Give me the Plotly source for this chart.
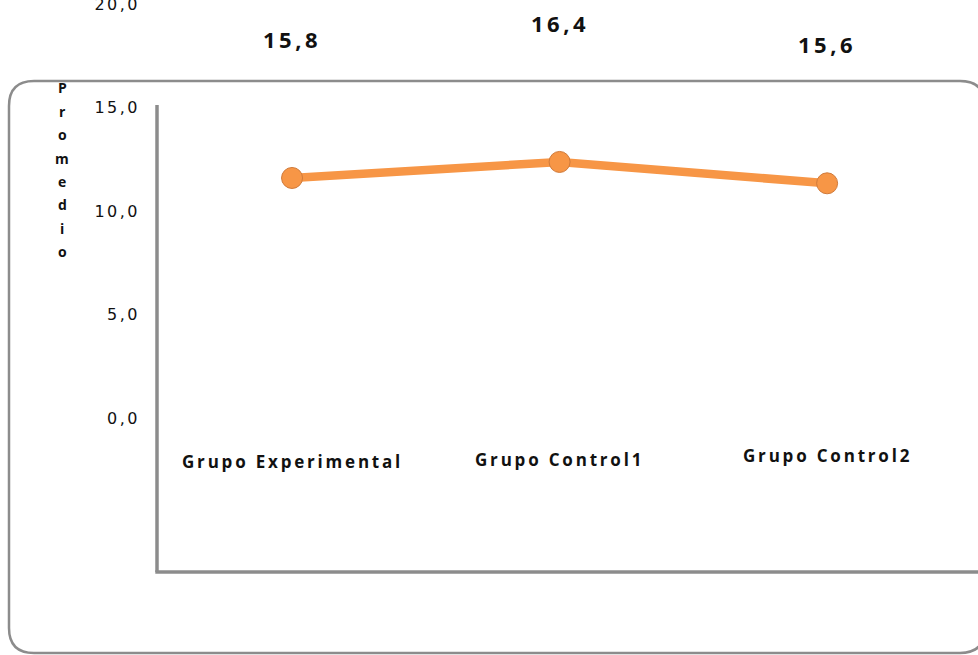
import plotly.graph_objects as go

# Promedio por grupo
categorias = ["Grupo Experimental", "Grupo Control1", "Grupo Control2"]
promedios = [15.8, 16.4, 15.6]
ticks_y = [0, 5, 10, 15, 20]

W, H = 978, 655
NARANJA = "#F79646"
GRIS = "#8c8c8c"


def px_x(v):
    return v / W


def px_y(v):
    return 1 - v / H


def coma(v):
    return f"{v:.1f}".replace(".", ",")


def espaciado(texto, sp):
    return f'<span style="letter-spacing:{sp}px">{texto}</span>'


fig = go.Figure()

# Traza vacía que sostiene el eje de escala visible
fig.add_trace(go.Scatter(
    x=categorias, y=[None] * len(categorias), yaxis="y",
    mode="markers", hoverinfo="skip", showlegend=False,
))

fig.add_trace(go.Scatter(
    x=categorias,
    y=promedios,
    yaxis="y2",
    mode="lines+markers",
    line=dict(color=NARANJA, width=8.5),
    marker=dict(size=21, color=NARANJA, line=dict(color="#d07a3a", width=1)),
    hoverinfo="skip",
    showlegend=False,
))

# Etiquetas de valor sobre cada punto
anotaciones = []
for c, v in zip(categorias, promedios):
    anotaciones.append(dict(
        x=c, y=v, xref="x", yref="y2", yshift=139,
        xanchor="center", yanchor="middle",
        text=espaciado(coma(v), 3.5), showarrow=False,
        font=dict(family="Open Sans", size=22, color="#111111", weight="bold"),
    ))

# Etiquetas de categoría
desplaz_cat = [461, 459, 455]
for c, yy in zip(categorias, desplaz_cat):
    anotaciones.append(dict(
        x=c, y=px_y(yy), xref="x", yref="paper",
        xanchor="center", yanchor="middle",
        text=espaciado(c, 2.8), showarrow=False,
        font=dict(family="Open Sans", size=17, color="#111111", weight="bold"),
    ))

# Título del eje vertical, letra por letra
titulo = "Promedio"
for i, letra in enumerate(titulo):
    anotaciones.append(dict(
        x=px_x(62), y=px_y(88 + i * 23.4), xref="paper", yref="paper",
        xanchor="center", yanchor="middle",
        text=letra, showarrow=False,
        font=dict(family="Open Sans", size=14, color="#111111", weight="bold"),
    ))

# Marco redondeado y líneas de los ejes
L, T, R, B, r = 9, 81, 985, 653, 25
marco = (
    f"M {px_x(L)},{px_y(T + r)} "
    f"Q {px_x(L)},{px_y(T)} {px_x(L + r)},{px_y(T)} "
    f"L {px_x(R - r)},{px_y(T)} "
    f"Q {px_x(R)},{px_y(T)} {px_x(R)},{px_y(T + r)} "
    f"L {px_x(R)},{px_y(B - r)} "
    f"Q {px_x(R)},{px_y(B)} {px_x(R - r)},{px_y(B)} "
    f"L {px_x(L + r)},{px_y(B)} "
    f"Q {px_x(L)},{px_y(B)} {px_x(L)},{px_y(B - r)} Z"
)
formas = [
    dict(type="path", path=marco, xref="paper", yref="paper",
         line=dict(color=GRIS, width=2.5), layer="below"),
    dict(type="line", xref="paper", yref="paper",
         x0=px_x(157), x1=px_x(157), y0=px_y(105), y1=px_y(572),
         line=dict(color=GRIS, width=3.5)),
    dict(type="line", xref="paper", yref="paper",
         x0=px_x(155.3), x1=1.0, y0=px_y(572), y1=px_y(572),
         line=dict(color=GRIS, width=3.5)),
]

fig.update_layout(
    width=W, height=H,
    margin=dict(l=0, r=0, t=0, b=0, autoexpand=False),
    paper_bgcolor="white", plot_bgcolor="white",
    xaxis=dict(
        domain=[0, 1], range=[-1.0916, 2.564],
        type="category", categoryorder="array", categoryarray=categorias,
        visible=False, fixedrange=True, automargin=False,
    ),
    yaxis=dict(
        domain=[0, 1], range=[-11.47, 20.22],
        anchor="free", position=px_x(140), side="left",
        tickvals=ticks_y, ticktext=[espaciado(coma(t), 2.5) for t in ticks_y],
        tickfont=dict(family="DejaVu Sans", size=16, color="#111111"),
        showgrid=False, zeroline=False, showline=False, ticks="",
        ticklabelstandoff=0, ticklabeloverflow="allow",
        automargin=False, fixedrange=True,
    ),
    yaxis2=dict(
        overlaying="y", range=[-2.07, 22.467],
        visible=False, fixedrange=True, automargin=False,
    ),
    annotations=anotaciones,
    shapes=formas,
    showlegend=False,
)

fig.write_html("out.html")
